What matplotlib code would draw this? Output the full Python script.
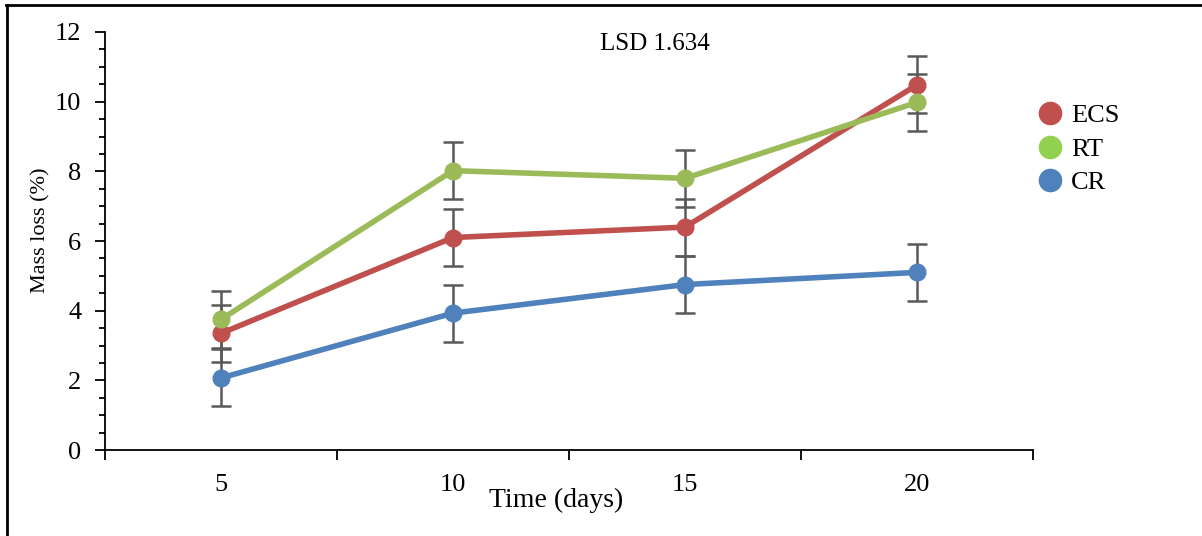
#!/usr/bin/env python3

import numpy as np
import matplotlib
matplotlib.use('Agg')
import matplotlib.pyplot as plt
from matplotlib.lines import Line2D

# Data
days = ['5', '10', '15', '20']
ecs = [3.35, 6.10, 6.40, 10.48]
rt = [3.75, 8.02, 7.80, 9.98]
cr = [2.07, 3.93, 4.75, 5.10]
lsd = 1.634
err = lsd / 2

series = ['ECS', 'RT', 'CR']
line_colors = ['#C0504D', '#9BBB59', '#4F81BD']
legend_colors = ['#C0504D', '#92D050', '#4F81BD']

plt.rcParams['font.family'] = ['Liberation Serif', 'DejaVu Serif']

fig = plt.figure(figsize=(12.02, 5.36), dpi=100)
ax = fig.add_axes([0.0874, 0.1604, 0.772, 0.7799])

x = np.arange(1, len(days) + 1)
for vals, col in zip([ecs, rt, cr], line_colors):
    ax.errorbar(x, vals, yerr=err, fmt='none', ecolor='#595959',
                elinewidth=1.8, capsize=7, capthick=1.8, zorder=2)
for vals, col in zip([ecs, rt, cr], line_colors):
    ax.plot(x, vals, color=col, linewidth=4, marker='o', markersize=12,
            zorder=3, solid_capstyle='round')

ax.set_xlim(0.5, len(days) + 0.5)
ax.set_ylim(0, 12)

# category ticks between groups, labels centred
ax.set_xticks(np.arange(0.5, len(days) + 1, 1.0))
ax.set_xticklabels([])
ax.set_xticks(x, minor=True)
ax.set_xticklabels(days, minor=True, fontsize=19)
ax.tick_params(axis='x', which='major', direction='out', length=7, width=1.3)
ax.tick_params(axis='x', which='minor', length=0, pad=17)

ax.set_yticks(np.arange(0, 13, 2))
ax.set_yticks(np.arange(0, 12.01, 0.5), minor=True)
ax.tick_params(axis='y', which='major', direction='out', length=7, width=1.3,
               labelsize=19, pad=10)
ax.tick_params(axis='y', which='minor', direction='out', length=4, width=1.3)

for s in ['top', 'right']:
    ax.spines[s].set_visible(False)
for s in ['left', 'bottom']:
    ax.spines[s].set_linewidth(1.3)

fig.text(0.034, 0.571, 'Mass loss (%)', ha='center', va='center',
         rotation=90, fontsize=16)
fig.text(0.463, 0.067, 'Time (days)', ha='center', va='center', fontsize=20)
fig.text(0.545, 0.917, 'LSD 1.634', ha='center', va='center', fontsize=18)

handles = [Line2D([], [], linestyle='none', marker='o', markersize=16,
                  color=c) for c in legend_colors]
fig.legend(handles, series, loc='center left', bbox_to_anchor=(0.837, 0.722),
           frameon=False, fontsize=19, handletextpad=0.05, labelspacing=0.38,
           handlelength=1.5)

# outer frame (top and left edges visible)
fig.add_artist(Line2D([0.005, 1.0], [0.9907, 0.9907], color='black', linewidth=2,
                      transform=fig.transFigure))
fig.add_artist(Line2D([0.0058, 0.0058], [0.0, 0.9907], color='black', linewidth=2,
                      transform=fig.transFigure))

fig.savefig('out.png', dpi=100)
